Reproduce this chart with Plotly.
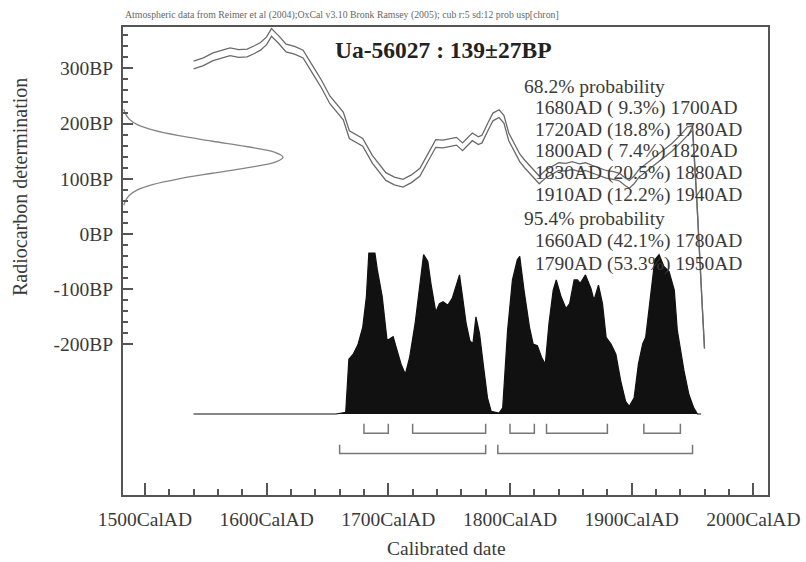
import plotly.graph_objects as go

# ---------------- data ----------------
# calibration curve (year AD, BP centre, 1-sigma half width)
cal_year = [1540, 1548, 1556, 1563, 1570, 1577, 1584, 1590, 1595, 1600, 1604, 1610, 1616,
            1623, 1630, 1638, 1645, 1652, 1658, 1663, 1668, 1674, 1679, 1687, 1693, 1698,
            1705, 1712, 1719, 1726, 1733, 1739, 1745, 1750, 1756, 1761, 1765, 1769, 1774,
            1777, 1782, 1786, 1791, 1795, 1799, 1804, 1808, 1812, 1816, 1820, 1824, 1829,
            1835, 1840, 1846, 1851, 1857, 1862, 1868, 1874, 1879, 1885, 1890, 1895, 1898,
            1902, 1906, 1913, 1920, 1926, 1933, 1940, 1946, 1950, 1953.5, 1957.6, 1959.8]
cal_bp = [306, 312, 321, 325, 330, 327, 328, 334, 340, 350, 365, 352, 337,
          333, 326, 297, 272, 243, 228, 214, 180, 172, 166, 135, 118, 104,
          96, 92, 100, 112, 140, 164, 163, 165, 168, 158, 168, 176, 169,
          172, 195, 212, 218, 208, 176, 155, 138, 127, 117, 108, 98, 108,
          116, 122, 121, 124, 120, 122, 117, 112, 108, 106, 103, 94, 90,
          98, 110, 122, 134, 145, 157, 172, 187, 192, 62, -116, -207]
cal_err = [7] * 73 + [4, 2, 1, 1]

# radiocarbon determination 139 +/- 27 BP (relative density)
det_bp = [52, 60, 70, 80, 90, 100, 110, 120, 130, 139, 148, 158, 168, 178, 188, 198, 208, 218, 226]
det_dens = [0.005, 0.015, 0.04, 0.09, 0.19, 0.35, 0.56, 0.78, 0.95, 1.0, 0.95, 0.78, 0.56,
            0.35, 0.19, 0.09, 0.04, 0.015, 0.005]

# calibrated date probability distribution (relative)
prob_year = [1540, 1657, 1665, 1667.6, 1671, 1675, 1679, 1682, 1684, 1689, 1691, 1695, 1699,
             1701.5, 1704, 1706.5, 1710.5, 1714, 1717.5, 1722, 1725.5, 1729, 1732.5, 1735,
             1739, 1742, 1745, 1749, 1752.5, 1755.5, 1758.5, 1761, 1764, 1767, 1769.5, 1772,
             1775, 1778, 1781.5, 1784.5, 1791, 1794, 1798, 1802, 1806, 1808, 1811.5, 1816,
             1819, 1822.5, 1826, 1829, 1832, 1835.5, 1838, 1842, 1846, 1849, 1852.7, 1855.5,
             1857.7, 1862, 1866.5, 1869, 1872.7, 1876, 1879, 1883, 1887, 1891, 1895, 1898,
             1902, 1905.5, 1909, 1911.5, 1915.6, 1919, 1922.5, 1926.5, 1930.7, 1935, 1937.5,
             1943, 1947, 1951, 1954, 1957]
prob_val = [0, 0, 0.01, 0.34, 0.37, 0.43, 0.54, 0.73, 1.0, 1.0, 0.895, 0.73, 0.456,
            0.467, 0.481, 0.414, 0.31, 0.247, 0.351, 0.561, 0.791, 0.99, 0.948, 0.812,
            0.634, 0.686, 0.697, 0.676, 0.718, 0.79, 0.864, 0.728, 0.561, 0.456, 0.435, 0.603,
            0.498, 0.31, 0.1, 0.017, 0.006, 0.038, 0.519, 0.833, 0.958, 0.979, 0.77, 0.54,
            0.435, 0.425, 0.351, 0.31, 0.561, 0.77, 0.833, 0.728, 0.655, 0.686, 0.833, 0.833,
            0.812, 0.864, 0.78, 0.707, 0.801, 0.686, 0.476, 0.435, 0.372, 0.205, 0.079, 0.048,
            0.1, 0.31, 0.435, 0.477, 0.728, 0.958, 0.99, 0.916, 0.885, 0.77, 0.519,
            0.268, 0.121, 0.038, 0, 0]

# probability ranges
r68_start = [1680, 1720, 1800, 1830, 1910]
r68_end = [1700, 1780, 1820, 1880, 1940]
r95_start = [1660, 1790]
r95_end = [1780, 1950]

x_tickvals = [1500, 1600, 1700, 1800, 1900, 2000]
x_ticktext = ["1500CalAD", "1600CalAD", "1700CalAD", "1800CalAD", "1900CalAD", "2000CalAD"]
y_tickvals = [-200, -100, 0, 100, 200, 300]
y_ticktext = ["-200BP", "-100BP", "0BP", "100BP", "200BP", "300BP"]

title_text = "Ua-56027 : 139±27BP"
caption_text = ("Atmospheric data from Reimer et al (2004);OxCal v3.10 Bronk Ramsey (2005); "
                "cub r:5 sd:12 prob usp[chron]")
prob_lines = ["68.2% probability",
              "1680AD ( 9.3%) 1700AD",
              "1720AD (18.8%) 1780AD",
              "1800AD ( 7.4%) 1820AD",
              "1830AD (20.5%) 1880AD",
              "1910AD (12.2%) 1940AD",
              "95.4% probability",
              "1660AD (42.1%) 1780AD",
              "1790AD (53.3%) 1950AD"]

# ---------------- layout constants ----------------
W, H = 806, 562
L, R, T, B = 123, 38, 27, 67
PW, PH = W - L - R, H - T - B
FONT = "Liberation Serif"
AXC = "#555555"
TXT = "#3a3a3a"


def px(xp):
    return (xp - L) / PW


def py(yp):
    return (H - B - yp) / PH


fig = go.Figure()

# calibrated probability (filled, on its own overlay axis)
fig.add_trace(go.Scatter(x=prob_year, y=prob_val, mode="lines", yaxis="y2",
                         line=dict(color="#111111", width=1.2), fill="tozeroy",
                         fillcolor="#111111", hoverinfo="skip", showlegend=False))

# calibration curve band (two lines)
upper = [c + e for c, e in zip(cal_bp, cal_err)]
lower = [c - e for c, e in zip(cal_bp, cal_err)]
for yy in (upper, lower):
    fig.add_trace(go.Scatter(x=cal_year, y=yy, mode="lines",
                             line=dict(color="#6a6a6a", width=1.3),
                             hoverinfo="skip", showlegend=False))

# radiocarbon determination on the y axis
fig.add_trace(go.Scatter(x=det_dens, y=det_bp, mode="lines", xaxis="x2",
                         line=dict(color="#858585", width=1.3, shape="spline"),
                         hoverinfo="skip", showlegend=False))


# range brackets
def bracket(x0, x1, ybot, ytop):
    fig.add_trace(go.Scatter(x=[x0, x0, x1, x1], y=[ytop, ybot, ybot, ytop], mode="lines",
                             line=dict(color="#777777", width=1.5),
                             hoverinfo="skip", showlegend=False))


for a, b in zip(r68_start, r68_end):
    bracket(a, b, -361, -344)
for a, b in zip(r95_start, r95_end):
    bracket(a, b, -398, -382)

fig.update_layout(
    width=W, height=H,
    margin=dict(l=L, r=R, t=T, b=B, autoexpand=False),
    paper_bgcolor="white", plot_bgcolor="white",
    font=dict(family=FONT, color=TXT, size=19),
    xaxis=dict(range=[1482, 2012], tickmode="array", tickvals=x_tickvals, ticktext=x_ticktext,
               ticks="inside", ticklen=12, tickwidth=1.5, tickcolor=AXC,
               minor=dict(dtick=20, ticks="inside", ticklen=6, tickwidth=1.5, tickcolor=AXC),
               showline=True, linecolor=AXC, linewidth=1.8, mirror=True,
               showgrid=False, zeroline=False, ticklabelstandoff=6,
               tickfont=dict(family=FONT, size=19.5, color=TXT)),
    yaxis=dict(range=[-473, 375], tickmode="array", tickvals=y_tickvals, ticktext=y_ticktext,
               ticks="inside", ticklen=10, tickwidth=1.5, tickcolor=AXC,
               minor=dict(tickmode="array", tickvals=[v for v in range(-200, 375, 20)],
                          ticks="inside", ticklen=5, tickwidth=1.5, tickcolor=AXC),
               showline=True, linecolor=AXC, linewidth=1.8, mirror=True,
               showgrid=False, zeroline=False, ticklabelstandoff=4,
               tickfont=dict(family=FONT, size=19.5, color=TXT)),
    xaxis2=dict(overlaying="x", range=[0, 4.03], visible=False),
    yaxis2=dict(overlaying="y", range=[-0.503, 2.404], visible=False),
)

ann = []
ann.append(dict(text="<b>" + title_text + "</b>", x=px(333), y=py(50), xanchor="left",
                yanchor="middle", font=dict(family=FONT, size=23.5, color="#222222"),
                showarrow=False, xref="paper", yref="paper"))
ann.append(dict(text=caption_text, x=px(123), y=py(15), xanchor="left", yanchor="middle",
                font=dict(family=FONT, size=9.8, color="#666666"), showarrow=False,
                xref="paper", yref="paper"))
line_y = [86, 108, 129.5, 151, 173, 195, 218, 241, 264]
for t, yy in zip(prob_lines, line_y):
    xl = 522 if "probability" in t else 533
    ann.append(dict(text=t, x=px(xl), y=py(yy), xanchor="left", yanchor="middle",
                    font=dict(family=FONT, size=19.5, color=TXT), showarrow=False,
                    xref="paper", yref="paper"))
ann.append(dict(text="Radiocarbon determination", x=px(20), y=py(187), textangle=-90,
                xanchor="center", yanchor="middle", font=dict(family=FONT, size=20, color=TXT),
                showarrow=False, xref="paper", yref="paper"))
ann.append(dict(text="Calibrated date", x=px(446), y=py(548), xanchor="center",
                yanchor="middle", font=dict(family=FONT, size=19.5, color=TXT),
                showarrow=False, xref="paper", yref="paper"))
fig.update_layout(annotations=ann)

fig.write_html("out.html", config={"displayModeBar": False},
               post_script="document.body.style.margin='0px';document.body.style.overflow='hidden';")
